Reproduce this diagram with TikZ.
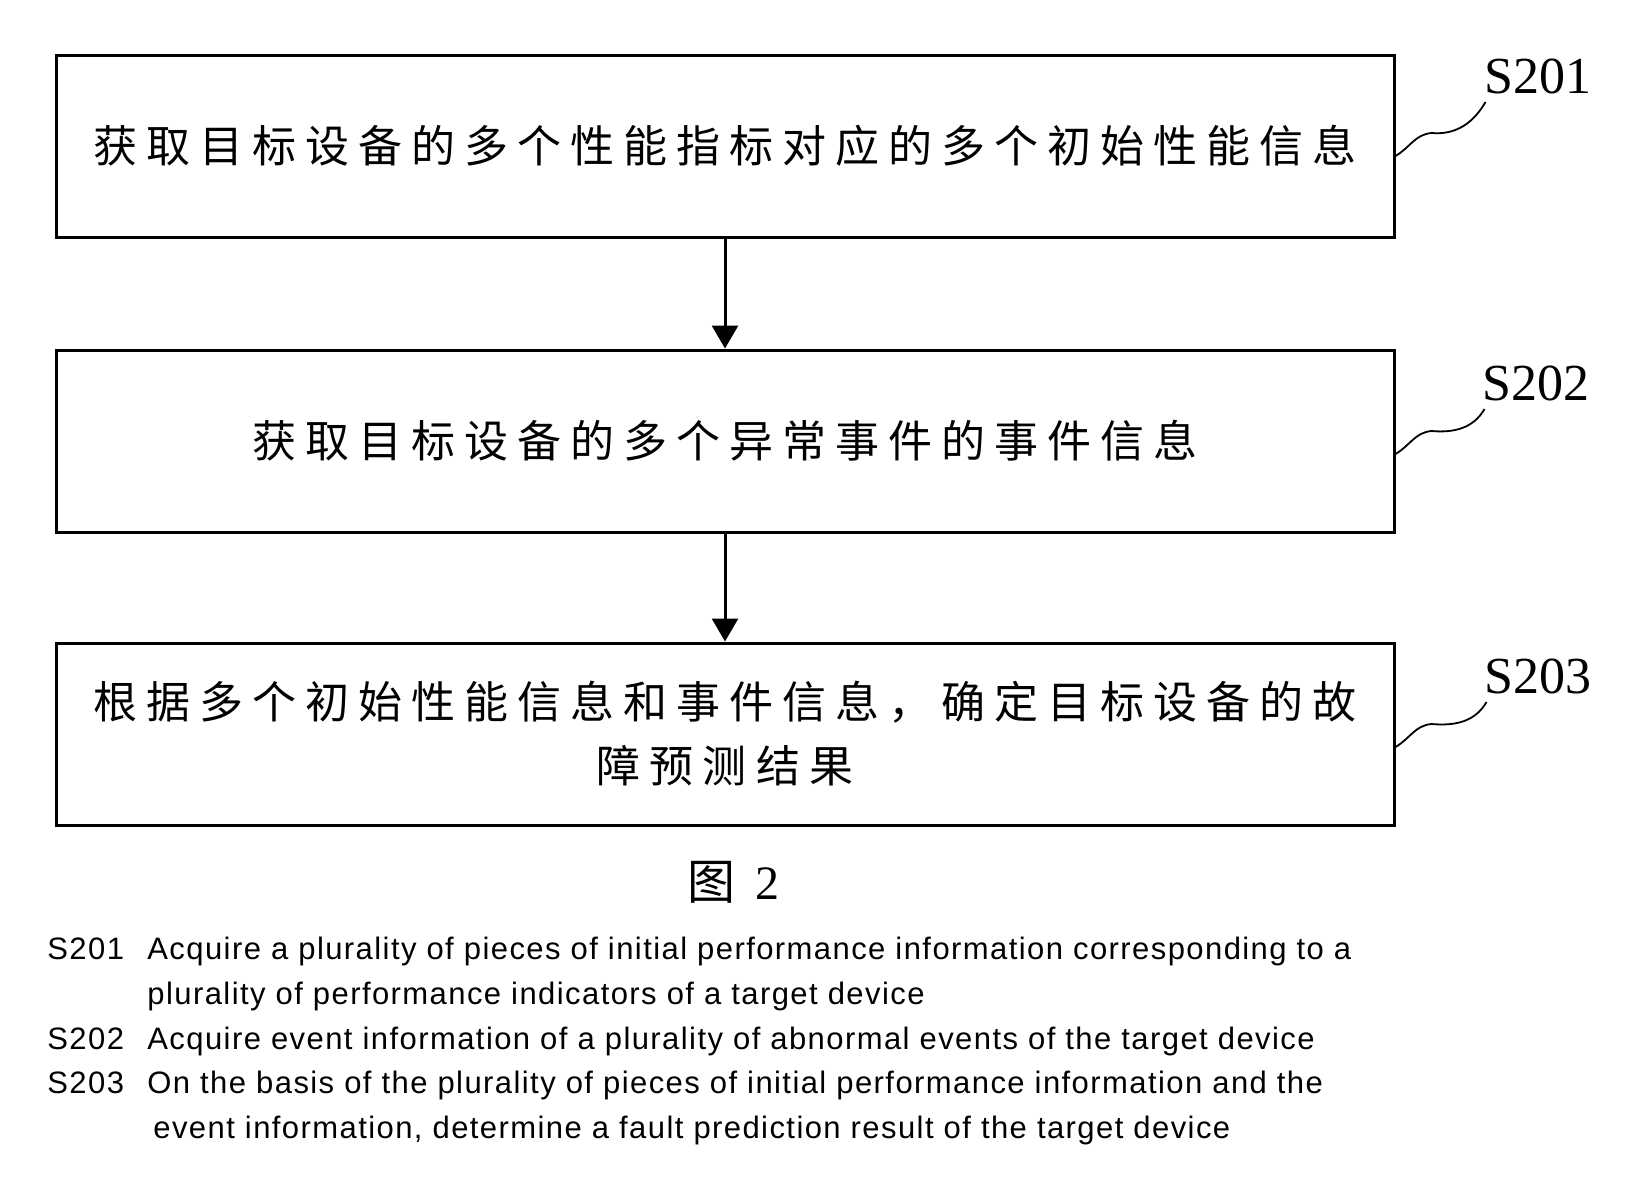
\documentclass[tikz,border=0pt]{standalone}
\usepackage{fontspec}
\setmainfont{Liberation Serif}
\setsansfont{Liberation Sans}
\newfontfamily\cjk{Noto Sans CJK SC}
\newfontfamily\cjkwide[LetterSpace=20.5]{Noto Sans CJK SC}
\newfontfamily\legendfont[LetterSpace=4.6]{Liberation Sans}
\usepackage{tikz}
\usetikzlibrary{arrows.meta,positioning,calc}

\begin{document}
\begin{tikzpicture}[x=0.5pt,y=0.5pt,>={Triangle[length=11.5pt,width=13pt]},
	proc node/.style={draw,line width=1.5pt,inner sep=0pt,align=center,
		font=\cjkwide\fontsize{22}{32}\selectfont,
		minimum width = 669pt, minimum height = 91pt},
	step label/.style={inner sep=0pt,anchor=base west,font=\fontsize{26}{26}\selectfont},
	flow/.style={->,line width=1.5pt},
	wavy/.style={line width=0.9pt}]

    \useasboundingbox (0,0) rectangle (1650,-1190);

    \node[proc node] (b1) at (725,-146) {获取目标设备的多个性能指标对应的多个初始性能信息};
    \node[proc node] (b2) [below = 55pt of b1] {获取目标设备的多个异常事件的事件信息};
    \node[proc node] (b3) [below = 54pt of b2] {根据多个初始性能信息和事件信息，确定目标设备的故\\障预测结果};

    \node[step label] (l1) at ([shift={(89,53)}]b1.east) {S201};
    \node[step label] (l2) at ([shift={(87,41)}]b2.east) {S202};
    \node[step label] (l3) at ([shift={(89,41)}]b3.east) {S203};

    \path[flow]
	(b1) edge (b2)
	(b2) edge (b3);

    \draw[wavy] ([yshift=-5pt]b1.east) to[out=30,in=185] ++(36,23) to[out=-5,in=-120] ([shift={(1,-9)}]l1.base west);
    \draw[wavy] ([yshift=-6.5pt]b2.east) to[out=30,in=185] ++(36,23) to[out=-5,in=-120] ([shift={(2,-9)}]l2.base west);
    \draw[wavy] ([yshift=-6.5pt]b3.east) to[out=30,in=185] ++(36,23) to[out=-5,in=-120] ([shift={(2,-9)}]l3.base west);

    \node[inner sep=0pt,font=\fontsize{24}{24}\selectfont] (cap) at (733,-882) {{\cjk 图}\hspace{10pt}2};

    \node[anchor=north west,inner sep=0pt,font=\legendfont\fontsize{15.5}{22.35}\selectfont] (legend) at (47,-928) {%
	\begin{tabular}{@{}p{50pt}@{}l@{}}
	S201 & Acquire a plurality of pieces of initial performance information corresponding to a\\
	     & plurality of performance indicators of a target device\\
	S202 & Acquire event information of a plurality of abnormal events of the target device\\
	S203 & On the basis of the plurality of pieces of initial performance information and the\\
	     & \hspace{3pt}event information, determine a fault prediction result of the target device
	\end{tabular}};
\end{tikzpicture}
\end{document}
